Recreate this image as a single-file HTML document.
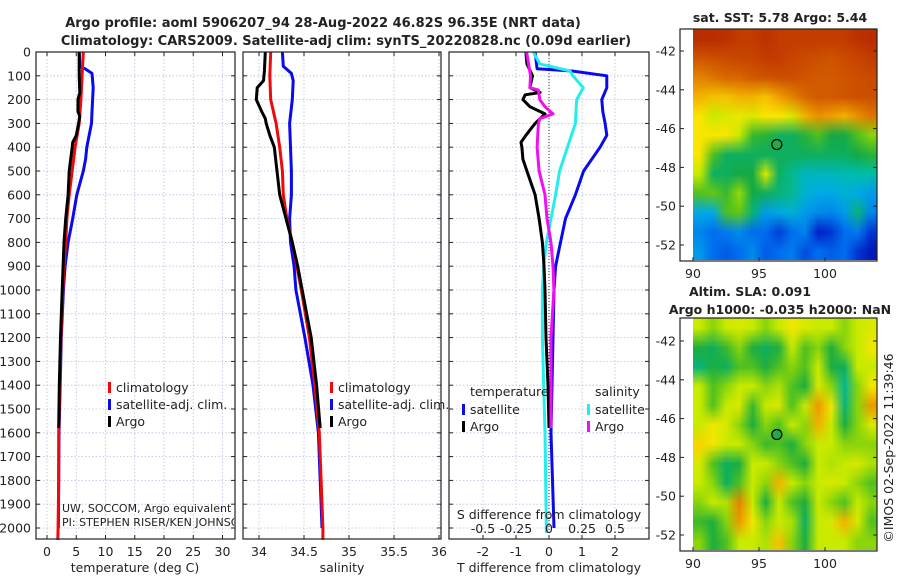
<!DOCTYPE html>
<html><head><meta charset="utf-8">
<style>
html,body{margin:0;padding:0;background:#fff;}
#wrap{position:relative;width:900px;height:580px;overflow:hidden;font-family:"DejaVu Sans","Liberation Sans",sans-serif;}
svg{position:absolute;left:0;top:0;}
canvas{position:absolute;}
text{font-family:"DejaVu Sans","Liberation Sans",sans-serif;fill:#222;}
</style></head>
<body>
<div id="wrap">
<canvas id="sstmap" width="184" height="231" style="left:693px;top:29px;"></canvas>
<canvas id="slamap" width="184" height="232" style="left:693px;top:318px;"></canvas>
<svg id="svg" width="900" height="580" xmlns="http://www.w3.org/2000/svg"></svg>
</div>
<script>
// ---- data ----
const depthClim=[0,100,200,300,400,500,600,700,800,900,1000,1200,1400,1600,1800,2000,2050];
const tempClim=[6.2,6.0,5.8,5.5,4.8,4.3,3.8,3.4,3.2,2.9,2.7,2.4,2.2,2.0,2.0,1.9,1.85];
const salClim=[34.13,34.12,34.13,34.19,34.23,34.26,34.27,34.31,34.37,34.42,34.47,34.56,34.62,34.67,34.69,34.71,34.71];
const depthSat=[0,60,70,90,150,250,300,400,450,500,600,700,800,900,1000,1200,1400,1600,1800,2000];
const tempSat=[5.5,5.6,6.5,7.7,7.9,7.7,7.6,6.8,6.6,6.2,5.1,4.4,3.6,3.1,2.8,2.45,2.25,2.05,2.0,1.95];
const depthSatS=[0,60,90,120,200,300,400,500,600,700,800,900,1000,1100,1200,1400,1600,2000];
const salSat=[34.26,34.27,34.36,34.38,34.37,34.34,34.35,34.36,34.36,34.34,34.35,34.39,34.41,34.46,34.51,34.6,34.66,34.70];
const depthArgo=[0,100,170,200,250,270,300,350,380,400,500,600,700,800,1000,1200,1400,1580];
const tempArgo=[5.5,5.5,5.6,5.3,5.3,5.6,5.4,5.0,4.4,4.3,3.8,3.6,3.2,2.9,2.6,2.3,2.1,2.0];
const depthArgoS=[0,80,120,150,200,250,280,300,350,400,500,600,700,800,900,1000,1200,1400,1580];
const salArgo=[34.07,34.06,34.05,33.98,33.97,34.03,34.07,34.08,34.12,34.17,34.2,34.23,34.3,34.37,34.43,34.48,34.58,34.64,34.68];
const depthDT=[0,70,80,100,150,200,250,300,350,400,500,600,700,800,900,1000,1200,1600,2000];
const dTSat=[-0.42,-0.36,0.7,1.75,1.75,1.6,1.63,1.7,1.75,1.55,1.05,0.8,0.5,0.35,0.2,0.15,0.12,0.06,0.15];
const depthDS=[0,50,80,100,150,200,300,400,500,600,700,800,900,1000,1200,1600,2020];
const dSSat=[-0.12,-0.07,0.16,0.18,0.26,0.21,0.2,0.14,0.08,0.05,0.015,-0.02,-0.04,-0.05,-0.05,-0.03,-0.02];
const depthDTA=[0,50,100,150,170,180,200,230,260,300,350,380,400,450,500,600,700,800,900,1000,1200,1400,1580];
const dTArgo=[-0.7,-0.67,-0.5,-0.58,-0.27,-0.72,-0.79,-0.58,-0.12,-0.42,-0.7,-0.85,-0.82,-0.79,-0.67,-0.42,-0.3,-0.2,-0.15,-0.12,-0.09,-0.03,0.0];
const depthDSA=[0,100,150,160,200,230,260,280,300,400,500,600,700,800,900,1000,1200,1400,1580];
const dSArgo=[-0.17,-0.14,-0.145,-0.08,-0.07,-0.03,0.03,-0.07,-0.08,-0.09,-0.075,-0.03,-0.015,0.015,0.03,0.037,0.015,0.015,0.015];
const depthTicks=[0,100,200,300,400,500,600,700,800,900,1000,1100,1200,1300,1400,1500,1600,1700,1800,1900,2000];
const tempTicks=[0,5,10,15,20,25,30];
const salTicks=[34,34.5,35,35.5,36];
const dTTicks=[-2,-1,0,1,2];
const dSTicks=[-0.5,-0.25,0,0.25,0.5];
const dSTickLabels=["-0.5","-0.25","0","0.25","0.5"];
const latTicks=[-42,-44,-46,-48,-50,-52];
const lonTicks=[90,95,100];
const argoLon=96.35, argoLat=-46.82;
const sstGrid=[
[.93,.93,.92,.9,.9,.92,.9,.9,.9,.9,.9,.9,.92,.93],
[.85,.86,.87,.88,.88,.9,.9,.88,.87,.86,.85,.87,.88,.9],
[.78,.8,.82,.82,.84,.85,.86,.86,.85,.84,.84,.85,.86,.87],
[.72,.7,.7,.72,.72,.7,.74,.78,.82,.84,.84,.85,.86,.86],
[.66,.6,.62,.64,.62,.66,.66,.62,.72,.76,.74,.72,.76,.8],
[.66,.66,.66,.6,.48,.46,.42,.42,.46,.5,.44,.44,.5,.55],
[.66,.5,.42,.42,.42,.42,.42,.42,.42,.42,.42,.42,.44,.46],
[.6,.42,.42,.44,.44,.62,.42,.38,.34,.34,.34,.35,.36,.36],
[.5,.52,.48,.56,.44,.42,.4,.38,.32,.3,.3,.32,.3,.28],
[.3,.3,.5,.52,.4,.28,.3,.32,.28,.26,.25,.28,.4,.25],
[.25,.22,.24,.26,.22,.22,.16,.22,.25,.12,.15,.22,.24,.15],
[.28,.22,.2,.22,.26,.2,.22,.24,.18,.22,.2,.22,.15,.1]];
const slaGrid=[
[.6,.55,.6,.62,.6,.55,.6,.65,.62,.6,.6,.55,.6,.62],
[.45,.42,.48,.55,.45,.42,.45,.6,.5,.55,.45,.55,.6,.65],
[.4,.45,.42,.5,.5,.45,.5,.55,.5,.6,.45,.42,.6,.6],
[.6,.5,.55,.6,.6,.55,.58,.5,.45,.62,.55,.38,.55,.65],
[.6,.5,.6,.62,.48,.6,.62,.5,.6,.75,.65,.4,.55,.75],
[.6,.65,.62,.55,.45,.55,.5,.6,.55,.72,.6,.45,.55,.62],
[.68,.65,.6,.6,.55,.48,.5,.45,.55,.6,.6,.55,.55,.55],
[.62,.5,.42,.45,.6,.6,.55,.5,.45,.6,.58,.6,.62,.58],
[.6,.55,.42,.5,.6,.55,.72,.6,.55,.6,.62,.6,.55,.5],
[.55,.6,.58,.78,.6,.45,.6,.5,.45,.6,.55,.5,.6,.55],
[.48,.45,.55,.75,.65,.55,.6,.58,.42,.6,.62,.72,.62,.5],
[.55,.45,.5,.6,.6,.58,.7,.55,.45,.6,.6,.6,.55,.55]];

// ---- scales ----
const Y=d=>52+0.238*d;
const XT=t=>47+5.85*t;
const XS=s=>259+90*(s-34);
const XD=t=>549+33*t;
const XDS=s=>549+132*s;
const lonX=l=>693+13.2*(l-90);
const lat1Y=l=>51+19.4*(-42-l);
const lat2Y=l=>341+19.4*(-42-l);

const NS="http://www.w3.org/2000/svg";
const svg=document.getElementById('svg');
function el(tag,attrs,parent){const e=document.createElementNS(NS,tag);for(const k in attrs)e.setAttribute(k,attrs[k]);(parent||svg).appendChild(e);return e;}
function txt(x,y,s,opts,parent){const e=el('text',Object.assign({x:x,y:y,'font-size':12},opts||{}),parent);e.textContent=s;return e;}

const panels=[{x0:36,x1:235,name:'temperature-panel'},{x0:243,x1:441,name:'salinity-panel'},{x0:449,x1:649,name:'difference-panel'}];
const yTop=52,yBot=539;
panels.forEach((p,i)=>{
  const g=el('g',{});
  
  
  depthTicks.forEach(d=>{
    el('line',{x1:p.x0,x2:p.x1,y1:Y(d),y2:Y(d),stroke:'#b8bfe0','stroke-width':0.8,'stroke-dasharray':'1.5,2'},g);
    el('line',{x1:p.x0,x2:p.x0+4,y1:Y(d),y2:Y(d),stroke:'#222'},g);
    el('line',{x1:p.x1-4,x2:p.x1,y1:Y(d),y2:Y(d),stroke:'#222'},g);
  });
  let xt,fx;
  if(i==0){xt=tempTicks;fx=XT;}else if(i==1){xt=salTicks;fx=XS;}else{xt=dTTicks;fx=XD;}
  xt.forEach(v=>{
    const x=fx(v);
    el('line',{x1:x,x2:x,y1:yTop,y2:yBot,stroke:'#b8bfe0','stroke-width':0.8,'stroke-dasharray':'1.5,2'},g);
    el('line',{x1:x,x2:x,y1:yBot-4,y2:yBot,stroke:'#222'},g);
    el('line',{x1:x,x2:x,y1:yTop,y2:yTop+4,stroke:'#222'},g);
    const t=txt(x,556,String(v),{'text-anchor':'middle','font-size':12.5},g);
    
    
  });
});
depthTicks.forEach(d=>{
  const t=txt(31,Y(d)+4.5,String(d),{'text-anchor':'end','font-size':12.5});
  
  
});
el('line',{x1:XD(0),x2:XD(0),y1:yTop,y2:yBot,stroke:'#333','stroke-width':1,'stroke-dasharray':'1,2'});

function line(xs,ds,fx,color,name,w){
  const pts=xs.map((v,i)=>fx(v).toFixed(1)+','+Y(ds[i]).toFixed(1)).join(' ');
  const e=el('polyline',{points:pts,fill:'none',stroke:color,'stroke-width':w||3,'stroke-linejoin':'round'});
  
  
}
line(tempSat,depthSat,XT,'#0a0aee','temp-satellite-line');
line(tempClim,depthClim,XT,'#ee0a0a','temp-climatology-line');
line(tempArgo,depthArgo,XT,'#000','temp-argo-line');
line(salSat,depthSatS,XS,'#0a0aee','sal-satellite-line');
line(salClim,depthClim,XS,'#ee0a0a','sal-climatology-line');
line(salArgo,depthArgoS,XS,'#000','sal-argo-line');
line(dTSat,depthDT,XD,'#0a0aee','dT-satellite-line');
line(dSSat,depthDS,XDS,'#22eeee','dS-satellite-line');
line(dTArgo,depthDTA,XD,'#000','dT-argo-line');
line(dSArgo,depthDSA,XDS,'#ee10ee','dS-argo-line');

panels.forEach(p=>{
  const r=el('rect',{x:p.x0,y:yTop,width:p.x1-p.x0,height:yBot-yTop,fill:'none',stroke:'#222','stroke-width':1.2});
  
  
});

function legend(x,y,color,label,name){
  const g=el('g',{});
  
  
  el('rect',{x:x,y:y-9,width:3,height:11,fill:color},g);
  txt(x+8,y+1,label,{'font-size':12.5},g);
}
legend(108,391,'#ee0a0a','climatology','legend-climatology');
legend(108,408,'#0a0aee','satellite-adj. clim.','legend-satellite');
legend(108,425,'#000','Argo','legend-argo');
legend(330,391,'#ee0a0a','climatology','legend-climatology-sal');
legend(330,408,'#0a0aee','satellite-adj. clim.','legend-satellite-sal');
legend(330,425,'#000','Argo','legend-argo-sal');
txt(470,396,'temperature',{'font-size':12.5});
txt(595,396,'salinity',{'font-size':12.5});
legend(462,413,'#0a0aee','satellite','legend-dT-satellite');
legend(462,430,'#000','Argo','legend-dT-argo');
legend(587,413,'#22eeee','satellite','legend-dS-satellite');
legend(587,430,'#ee10ee','Argo','legend-dS-argo');

const clip=el('clipPath',{id:'c1'});el('rect',{x:36,y:490,width:198,height:40},clip);
const gpi=el('g',{'clip-path':'url(#c1)'});
txt(62,512,'UW, SOCCOM, Argo equivalent',{'font-size':11},gpi);
txt(62,526,'PI: STEPHEN RISER/KEN JOHNSON',{'font-size':11},gpi);

txt(549,519,'S difference from climatology',{'text-anchor':'middle','font-size':12.5});
dSTicks.forEach((v,i)=>{txt(XDS(v),533,dSTickLabels[i],{'text-anchor':'middle','font-size':12.5});});
txt(135,572,'temperature (deg C)',{'text-anchor':'middle','font-size':12.5});
txt(342,572,'salinity',{'text-anchor':'middle','font-size':12.5});
txt(549,572,'T difference from climatology',{'text-anchor':'middle','font-size':12.5});
txt(323,27,'Argo profile: aoml 5906207_94 28-Aug-2022 46.82S 96.35E (NRT data)',{'text-anchor':'middle','font-size':13,'font-weight':'bold'});
txt(346,45,'Climatology: CARS2009. Satellite-adj clim: synTS_20220828.nc (0.09d earlier)',{'text-anchor':'middle','font-size':13,'font-weight':'bold'});

// ---- maps ----
const cmapStops=[[0,0,0,120],[0.12,0,30,200],[0.22,0,110,240],[0.3,0,170,230],[0.36,0,190,170],[0.44,20,170,70],[0.52,100,200,20],[0.6,200,235,0],[0.66,250,230,0],[0.74,240,160,0],[0.84,210,90,0],[0.92,190,50,0],[1,150,10,0]];
function cmap(v){
  v=Math.max(0,Math.min(1,v));
  for(let i=1;i<cmapStops.length;i++){const a=cmapStops[i-1],b=cmapStops[i];
    if(v<=b[0]){const t=(v-a[0])/(b[0]-a[0]);return [0,1,2].map(k=>Math.round(a[k+1]+t*(b[k+1]-a[k+1])));}}
  return [150,10,0];
}
function drawMap(id,grid,smooth){
  const cv=document.getElementById(id),ctx=cv.getContext('2d');
  const small=document.createElement('canvas');small.width=grid[0].length;small.height=grid.length;
  const sc=small.getContext('2d'),img=sc.createImageData(small.width,small.height);
  grid.forEach((row,r)=>row.forEach((v,c)=>{const k=(r*small.width+c)*4,col=cmap(v);img.data[k]=col[0];img.data[k+1]=col[1];img.data[k+2]=col[2];img.data[k+3]=255;}));
  sc.putImageData(img,0,0);
  ctx.imageSmoothingEnabled=smooth;
  ctx.drawImage(small,0,0,cv.width,cv.height);
}
drawMap('sstmap',sstGrid,true);
drawMap('slamap',slaGrid,true);

function mapAxes(top,bot,latY,name){
  const g=el('g',{});
  
  
  el('rect',{x:680,y:top,width:197,height:bot-top,fill:'none',stroke:'#222','stroke-width':1.2},g);
  latTicks.forEach(l=>{const y=latY(l);
    el('line',{x1:680,x2:684,y1:y,y2:y,stroke:'#222'},g);
    el('line',{x1:873,x2:877,y1:y,y2:y,stroke:'#222'},g);
    txt(676,y+4.5,String(l),{'text-anchor':'end','font-size':12.5},g);});
  lonTicks.forEach(l=>{const x=lonX(l);
    el('line',{x1:x,x2:x,y1:bot-4,y2:bot,stroke:'#222'},g);
    txt(x,bot+17,String(l),{'text-anchor':'middle','font-size':12.5},g);});
  const c=el('circle',{cx:lonX(argoLon),cy:latY(argoLat),r:5,fill:'#22aa44',stroke:'#000','stroke-width':1.2},g);
  
  
}
mapAxes(29,261,lat1Y,'sst-map-axes');
mapAxes(318,551,lat2Y,'sla-map-axes');
txt(780,22,'sat. SST: 5.78 Argo: 5.44',{'text-anchor':'middle','font-size':12.5,'font-weight':'bold'});
txt(750,296,'Altim. SLA: 0.091',{'text-anchor':'middle','font-size':12.5,'font-weight':'bold'});
txt(780,314,'Argo h1000: -0.035 h2000: NaN',{'text-anchor':'middle','font-size':12.5,'font-weight':'bold'});
const cr=txt(0,0,'©IMOS 02-Sep-2022 11:39:46',{'font-size':12.5,'text-anchor':'middle',transform:'translate(893,448) rotate(-90)'});


</script>
</body></html>
